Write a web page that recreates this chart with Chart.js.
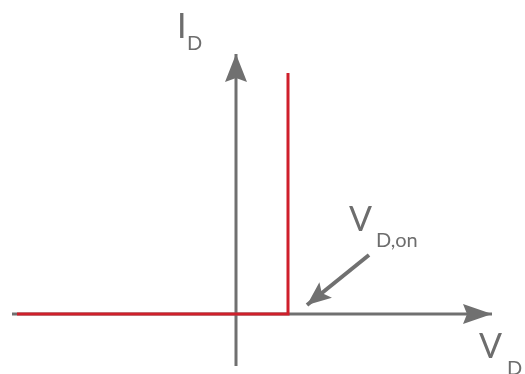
<!DOCTYPE html>
<html lang="en">
<head>
  <meta charset="UTF-8">
  <title>Diode I-V characteristic</title>
  <script src="https://cdn.jsdelivr.net/npm/chart.js"></script>
  <style>
    html, body { margin: 0; padding: 0; background: #fff; }
    #wrap { width: 525px; height: 374px; position: relative; }
  </style>
</head>
<body>
  <div id="wrap"><canvas id="diodeChart"></canvas></div>

  <script>
// data units: 1 unit = 20px, origin where the axes cross
const curveX = [-10.95, 2.6, 2.6];
const curveY = [0, 0, 12.05];

const vAxisX = [-11.2, 12.8];   // V_D axis, last point = arrow tip
const vAxisY = [0, 0];
const iAxisX = [0, 0];          // I_D axis
const iAxisY = [-2.6, 13];

const pointerX = [6.65, 3.55];  // arrow pointing at V_D,on
const pointerY = [2.95, 0.45];

const labelText = ["I", "D", "V", "D,on", "V", "D"];
const labelX = [-2.95, -2.45, 5.65, 7.0, 12.15, 13.55];
const labelY = [13.8, 13.2, 4.15, 3.35, -2.2, -3.05];
const labelBig = [true, false, true, false, true, false];

const grey = "#707070";
const red = "#cf1f2b";

function pts(xs, ys) {
  return xs.map((x, i) => ({ x: x, y: ys[i] }));
}

// draws arrowheads on flagged datasets and the text labels
const arrowAndText = {
  id: "arrowAndText",
  afterDatasetsDraw(chart) {
    const ctx = chart.ctx;
    const xs = chart.scales.x, ys = chart.scales.y;
    chart.data.datasets.forEach(ds => {
      if (!ds.arrow) return;
      const n = ds.data.length;
      const a = ds.data[n - 2], b = ds.data[n - 1];
      const x1 = xs.getPixelForValue(a.x), y1 = ys.getPixelForValue(a.y);
      const x2 = xs.getPixelForValue(b.x), y2 = ys.getPixelForValue(b.y);
      const ang = Math.atan2(y2 - y1, x2 - x1);
      const len = ds.arrow.len, half = ds.arrow.half, notch = ds.arrow.notch;
      ctx.save();
      ctx.translate(x2, y2);
      ctx.rotate(ang);
      ctx.beginPath();
      ctx.moveTo(0, 0);
      ctx.lineTo(-len, -half);
      ctx.lineTo(-len + notch, 0);
      ctx.lineTo(-len, half);
      ctx.closePath();
      ctx.fillStyle = ds.borderColor;
      ctx.fill();
      ctx.restore();
    });

    ctx.save();
    ctx.fillStyle = "#6d6d6d";
    ctx.textAlign = "left";
    ctx.textBaseline = "alphabetic";
    labelText.forEach((t, i) => {
      ctx.font = labelBig[i] ? "34px Lato" : "20px Lato";
      ctx.fillText(t, xs.getPixelForValue(labelX[i]), ys.getPixelForValue(labelY[i]));
    });
    ctx.restore();
  }
};

const ctx = document.getElementById("diodeChart").getContext("2d");
new Chart(ctx, {
  type: "scatter",
  data: {
    datasets: [
      {
        data: pts(vAxisX, vAxisY), order: 2,
        showLine: true, borderColor: grey, borderWidth: 3, pointRadius: 0,
        arrow: { len: 29, half: 10, notch: 4 }
      },
      {
        data: pts(iAxisX, iAxisY), order: 1,
        showLine: true, borderColor: grey, borderWidth: 3, pointRadius: 0,
        arrow: { len: 28, half: 11, notch: 4 }
      },
      {
        data: pts(curveX, curveY), order: 0,
        showLine: true, borderColor: red, borderWidth: 3, pointRadius: 0,
        borderJoinStyle: "miter"
      },
      {
        data: pts(pointerX, pointerY), order: 0,
        showLine: true, borderColor: grey, borderWidth: 4, pointRadius: 0,
        arrow: { len: 24, half: 10, notch: 5 }
      }
    ]
  },
  options: {
    responsive: true,
    maintainAspectRatio: false,
    animation: false,
    layout: { padding: 0 },
    scales: {
      x: { type: "linear", min: -11.8, max: 14.45, display: false },
      y: { type: "linear", min: -3, max: 15.7, display: false }
    },
    plugins: {
      legend: { display: false },
      tooltip: { enabled: false }
    }
  },
  plugins: [arrowAndText]
});
  </script>
</body>
</html>
